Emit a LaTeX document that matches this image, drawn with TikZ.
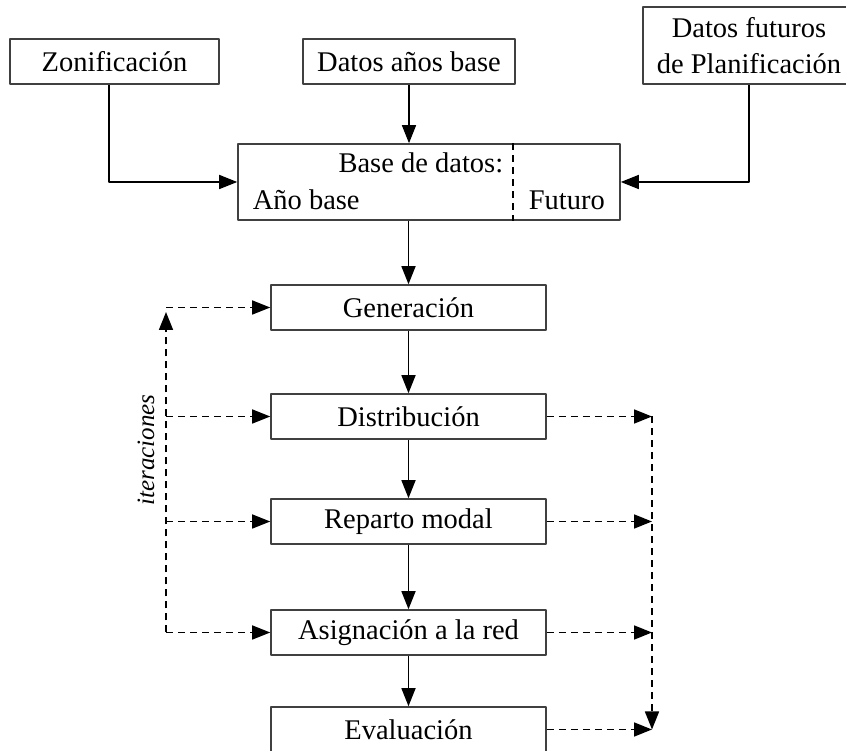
\documentclass[tikz,border=0pt]{standalone}
\usepackage{fontspec}
\setmainfont{Liberation Serif}
\usetikzlibrary{arrows.meta}

\tikzset{
  caja/.style={draw=black!75, minimum width=275bp, minimum height=45bp, inner sep=0pt},
  iter/.style={->, dash pattern=on 7bp off 5bp},
}

\begin{document}
\begin{tikzpicture}[>={Triangle[length=18bp,width=14bp]},line join=bevel,font=\fontsize{28.5bp}{36bp}\selectfont]
  \pgfsetlinewidth{1.6bp}
  \useasboundingbox (0bp,0bp) rectangle (846bp,751bp);
  %%
  % Node: entradas
  \node[caja, minimum width=209bp] (zon) at (114.5bp,689.5bp) {Zonificación};
  \node[caja, minimum width=212bp] (dab) at (409bp,689.5bp) {Datos años base};
  \node[caja, minimum width=212bp, minimum height=77bp, align=center] (dfp) at (749bp,705.5bp) {Datos futuros\\de Planificación};
  % Node: bd
  \node[caja, minimum width=382bp, minimum height=76bp] (bd) at (429bp,569bp) {};
  \node[anchor=east, inner sep=0pt] (bdtit) at (504bp,588bp) {Base de datos:};
  \node[anchor=west, inner sep=0pt] (bdano) at (252bp,551bp) {Año base};
  \node[anchor=west, inner sep=0pt] (bdfut) at (528bp,551bp) {Futuro};
  \coordinate (dv) at (513bp,569bp);
  \draw[dash pattern=on 7bp off 5bp] (bd.north -| dv) -- (bd.south -| dv);
  % Node: etapas
  \node[caja] (gen) at (408.5bp,443.5bp) {Generación};
  \node[caja] (dist) at (408.5bp,334.5bp) {Distribución};
  \node[caja] (rmod) at (408.5bp,229.5bp) {Reparto modal};
  \node[caja] (asig) at (408.5bp,118.5bp) {Asignación a la red};
  \node[caja] (eval) at (408.5bp,21.5bp) {Evaluación};
  % Node: iteraciones
  \node[rotate=90, font=\fontsize{25bp}{30bp}\selectfont\itshape] (iterac) at (146bp,301bp) {iteraciones};
  \coordinate (lft) at (166bp,0bp);
  \coordinate (lfttop) at (166bp,439bp);
  \coordinate (rgt) at (652bp,0bp);
  %%
  % Edge: entradas -> bd
  \draw[->] ([xshift=-5.5bp]zon.south) |- (bd.west);
  \draw[->] (dab.south) -- (dab.south |- bd.north);
  \draw[->] (dfp.south) |- (bd.east);
  % Edge: bd -> gen -> ... -> eval
  \draw[->] (bd.south -| gen.north) -- (gen.north);
  \draw[->] (gen) -- (dist);
  \draw[->] (dist) -- (rmod);
  \draw[->] (rmod) -- (asig);
  \draw[->] (asig) -- (eval);
  % Edge: iteraciones
  \draw[iter] (asig.west -| lft) -- (lfttop);
  \foreach \n in {gen,dist,rmod,asig}
    \draw[iter] (\n.west -| lft) -- (\n.west);
  % Edge: salidas
  \foreach \n in {dist,rmod,asig,eval}
    \draw[iter] (\n.east) -- (\n.east -| rgt);
  \draw[iter] (dist.east -| rgt) -- (eval.east -| rgt);
  %
\end{tikzpicture}
\end{document}
